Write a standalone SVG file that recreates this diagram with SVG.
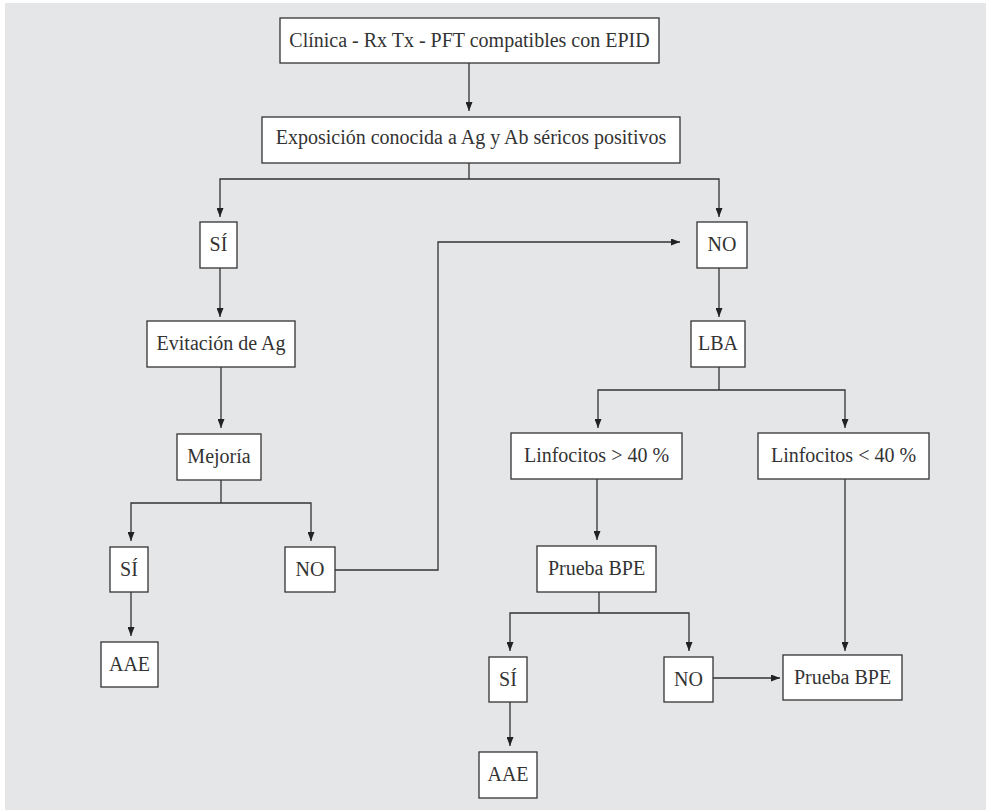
<svg xmlns="http://www.w3.org/2000/svg" width="986" height="810" viewBox="0 0 986 810">
<style>
.box{fill:#ffffff;stroke:#333333;stroke-width:1.3}
.lbl{font-family:"Liberation Serif","DejaVu Serif",serif;font-size:20px;fill:#333333;text-anchor:middle}
.con{fill:none;stroke:#333333;stroke-width:1.3}
.arr{marker-end:url(#ah)}
</style>
<defs>
<marker id="ah" markerUnits="userSpaceOnUse" viewBox="0 0 9 7" refX="9" refY="3.5" markerWidth="9" markerHeight="7" orient="auto">
<path d="M0,0 L9,3.5 L0,7 z" fill="#222222"/>
</marker>
</defs>
<rect x="5" y="3" width="981" height="807" fill="#e5e6e8"/>
<g id="connectors">
<path class="con arr" d="M469,63 V111"/>
<path class="con" d="M469,163 V179"/>
<path class="con arr" d="M469,179 H220 V217"/>
<path class="con arr" d="M469,179 H719 V217"/>
<path class="con arr" d="M220,268 V317"/>
<path class="con arr" d="M221,367 V428"/>
<path class="con" d="M221,480 V503"/>
<path class="con arr" d="M221,503 H131 V541"/>
<path class="con arr" d="M221,503 H311 V541"/>
<path class="con arr" d="M335,570 H438 V242 H680"/>
<path class="con arr" d="M719,268 V317"/>
<path class="con" d="M719,367 V390"/>
<path class="con arr" d="M719,390 H598 V428"/>
<path class="con arr" d="M719,390 H845 V428"/>
<path class="con arr" d="M597,479 V540"/>
<path class="con arr" d="M845,479 V651"/>
<path class="con" d="M599,592 V613"/>
<path class="con arr" d="M599,613 H510 V651"/>
<path class="con arr" d="M599,613 H689 V651"/>
<path class="con arr" d="M131,592 V636"/>
<path class="con arr" d="M510,702 V746"/>
<path class="con arr" d="M713,678 H780"/>
</g>
<g id="n1"><rect class="box" x="280" y="18" width="379" height="45"/><text class="lbl" x="469.5" y="47">Clínica - Rx Tx - PFT compatibles con EPID</text></g>
<g id="n2"><rect class="box" x="262" y="117" width="418" height="46"/><text class="lbl" x="471" y="144">Exposición conocida a Ag y Ab séricos positivos</text></g>
<g id="si1"><rect class="box" x="200" y="222" width="37" height="46"/><text class="lbl" x="218.5" y="251">SÍ</text></g>
<g id="no1"><rect class="box" x="697" y="222" width="50" height="46"/><text class="lbl" x="722" y="251">NO</text></g>
<g id="evitacion"><rect class="box" x="147" y="321" width="148" height="46"/><text class="lbl" x="221" y="350">Evitación de Ag</text></g>
<g id="lba"><rect class="box" x="691" y="321" width="54" height="46"/><text class="lbl" x="718" y="350">LBA</text></g>
<g id="mejoria"><rect class="box" x="177" y="434" width="84" height="46"/><text class="lbl" x="219" y="463">Mejoría</text></g>
<g id="linf_gt"><rect class="box" x="511" y="433" width="171" height="46"/><text class="lbl" x="596.5" y="462">Linfocitos &gt; 40 %</text></g>
<g id="linf_lt"><rect class="box" x="758" y="433" width="171" height="46"/><text class="lbl" x="843.5" y="462">Linfocitos &lt; 40 %</text></g>
<g id="si2"><rect class="box" x="110" y="547" width="38" height="45"/><text class="lbl" x="129" y="576">SÍ</text></g>
<g id="no2"><rect class="box" x="285" y="547" width="50" height="45"/><text class="lbl" x="310" y="576">NO</text></g>
<g id="prueba1"><rect class="box" x="537" y="546" width="119" height="46"/><text class="lbl" x="596.5" y="575">Prueba BPE</text></g>
<g id="aae1"><rect class="box" x="101" y="642" width="57" height="45"/><text class="lbl" x="129.5" y="671">AAE</text></g>
<g id="si3"><rect class="box" x="489" y="657" width="38" height="45"/><text class="lbl" x="508" y="686">SÍ</text></g>
<g id="no3"><rect class="box" x="664" y="657" width="49" height="45"/><text class="lbl" x="688.5" y="686">NO</text></g>
<g id="prueba2"><rect class="box" x="783" y="655" width="119" height="45"/><text class="lbl" x="842.5" y="684">Prueba BPE</text></g>
<g id="aae2"><rect class="box" x="479" y="752" width="58" height="46"/><text class="lbl" x="508" y="781">AAE</text></g>
</svg>
